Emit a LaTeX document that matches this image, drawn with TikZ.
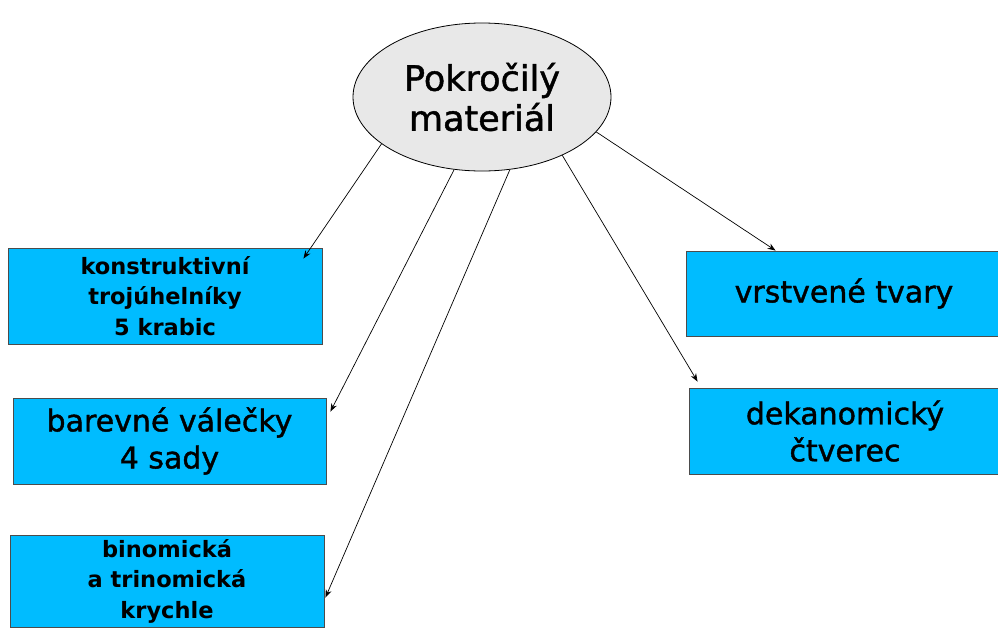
\documentclass[tikz,border=0pt]{standalone}
\usepackage{fontspec}
\setmainfont{DejaVu Sans}
\newfontfamily\medfont[FakeBold=1.3]{DejaVu Sans}
\usetikzlibrary{shapes.geometric,arrows.meta,calc}
\definecolor{boxblue}{RGB}{0,188,255}
\definecolor{ellgray}{RGB}{232,232,232}
\begin{document}
\begin{tikzpicture}[x=1pt,y=-1pt]
        % Styles
        \tikzstyle{blue box}=[draw=black!70,line width=0.9pt,fill=boxblue,align=center,inner sep=0pt]
        \tikzstyle{small text}=[font=\bfseries\fontsize{22.5}{30.5}\selectfont]
        \tikzstyle{big text}=[font=\medfont\fontsize{30}{37}\selectfont]
        \tikzstyle{link}=[line width=0.7pt,-{Stealth[length=8pt,width=6pt]}]
        \useasboundingbox (0,0) rectangle (998,627);
        %the middle
        \node[ellipse,draw,line width=0.8pt,fill=ellgray,minimum width=258pt,minimum height=148pt,
              align=center,font=\medfont\fontsize{35}{40}\selectfont] (mat) at (482,97) {Pokročilý\\materiál};
        %left boxes
        \node[blue box,small text,minimum width=314pt,minimum height=96pt] (troj) at (165,296)
            {konstruktivní\\trojúhelníky\\5 krabic};
        \node[blue box,big text,minimum width=313pt,minimum height=86pt] (val) at (169.5,441)
            {barevné válečky\\4 sady};
        \node[blue box,small text,minimum width=314pt,minimum height=92pt] (kry) at (167,581)
            {binomická\\a trinomická\\krychle};
        %right boxes
        \node[blue box,big text,minimum width=316pt,minimum height=85pt] (tvary) at (844,293.5)
            {vrstvené tvary};
        \node[blue box,big text,minimum width=312pt,minimum height=86pt] (dek) at (845,431)
            {dekanomický\\čtverec};
        %arrow ends
        \coordinate (e1) at ($(troj.north east)+(-19,11)$);
        \coordinate (e2) at ($(val.north east)+(4,14)$);
        \coordinate (e3) at ($(kry.north east)+(1,63)$);
        \coordinate (e4) at ($(dek.north west)+(9,-6)$);
        \coordinate (e5) at ($(tvary.north west)+(90,0)$);
        %arrows
        \draw[link] (mat.205) -- (e1);
        \draw[link] (mat.249) -- (e2);
        \draw[link] (mat.291) -- (e3);
        \draw[link] (mat.324) -- (e4);
        \draw[link] (mat.343) -- (e5);
\end{tikzpicture}
\end{document}
